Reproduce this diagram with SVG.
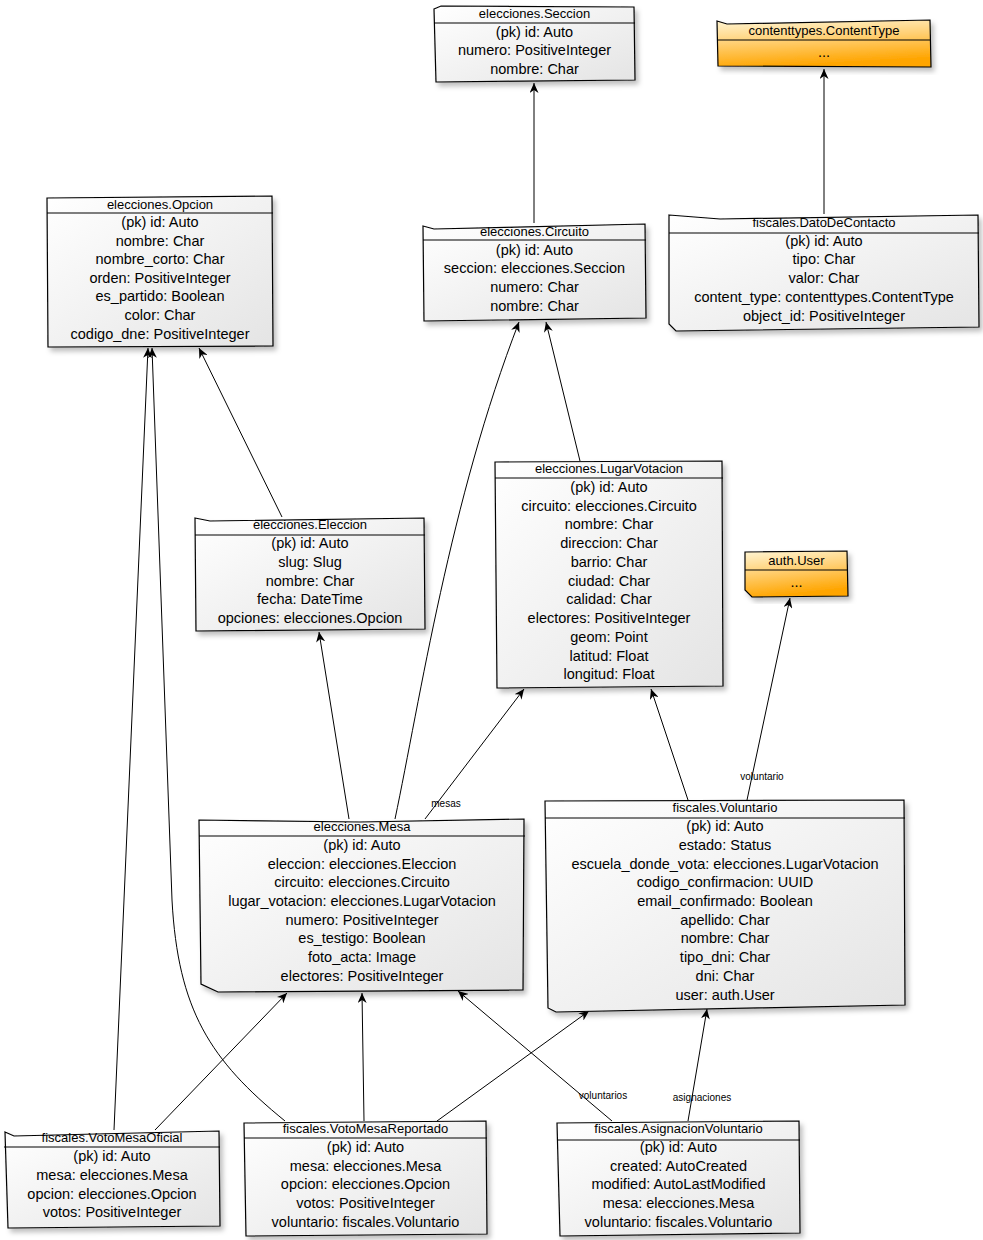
<svg xmlns="http://www.w3.org/2000/svg" width="983" height="1240" viewBox="0 0 983 1240">
<defs>
<linearGradient id="g" x1="0" y1="0" x2="1" y2="1">
<stop offset="0" stop-color="#FFFFFF"/>
<stop offset="1" stop-color="#E4E4E4"/>
</linearGradient>
<linearGradient id="o" x1="0" y1="0" x2="0.25" y2="1">
<stop offset="0" stop-color="#FFF6D6"/>
<stop offset="0.45" stop-color="#FFD27A"/>
<stop offset="1" stop-color="#FFA500"/>
</linearGradient>
<filter id="sh" x="-5%" y="-5%" width="115%" height="120%">
<feDropShadow dx="3" dy="4" stdDeviation="2.5" flood-color="#000" flood-opacity="0.25"/>
</filter>
<marker id="a" viewBox="0 0 10 9" refX="10" refY="4.5" markerWidth="10" markerHeight="9" markerUnits="userSpaceOnUse" orient="auto">
<path d="M0,0 L10,4.5 L0,9 L3,4.5 Z" fill="#000"/>
</marker>
</defs>
<style>
.box{fill:url(#g);stroke:#000;stroke-width:1.2;filter:url(#sh)}
.obox{fill:url(#o);stroke:#000;stroke-width:1.2;filter:url(#sh)}
.sep{stroke:#000;stroke-width:1.2;fill:none}
.ti{font-family:"Liberation Sans",Arial,sans-serif;font-size:13px;text-anchor:middle;fill:#000}
.t{font-family:"Liberation Sans",Arial,sans-serif;font-size:14.5px;text-anchor:middle;fill:#000}
.c{stroke:#000;stroke-width:1;fill:none;marker-end:url(#a)}
.lb{font-family:"Liberation Sans",Arial,sans-serif;font-size:10px;text-anchor:middle;fill:#000}
</style>

<g id="connectors">
<path class="c" d="M824,214 L824,69"/>
<path class="c" d="M534,223 L534,83"/>
<path class="c" d="M282,517 L199,348"/>
<path class="c" d="M580,461 L546,322"/>
<path class="c" d="M395,819 C420,700 450,500 519,322"/>
<path class="c" d="M349,819 L319,632"/>
<path class="c" d="M425,819 L524,689"/>
<path class="c" d="M688,800 L651,689"/>
<path class="c" d="M747,800 L790,598"/>
<path class="c" d="M114,1130 L148,348"/>
<path class="c" d="M155,1130 L287,993"/>
<path class="c" d="M285,1121 C210,1060 178,1010 172,900 L152,348"/>
<path class="c" d="M364,1121 L362,993"/>
<path class="c" d="M437,1121 L589,1011"/>
<path class="c" d="M612,1121 L458,991"/>
<path class="c" d="M688,1121 L707,1009"/>
<text class="lb" x="446" y="807">mesas</text>
<text class="lb" x="762" y="780">voluntario</text>
<text class="lb" x="603" y="1099">voluntarios</text>
<text class="lb" x="702" y="1101">asignaciones</text>
</g>

<g id="seccion">
<path class="box" d="M434,9 L441,6 L634,7 L635,80 L436,82 Z"/>
<path class="sep" d="M434,23 L635,23"/>
<text class="ti" x="534.5" y="17.5">elecciones.Seccion</text>
<text class="t" x="534.5" y="37">(pk) id: Auto</text>
<text class="t" x="534.5" y="55">numero: PositiveInteger</text>
<text class="t" x="534.5" y="74">nombre: Char</text>
</g>

<g id="contenttype">
<path class="obox" d="M717,21 L727,24 L930,20 L931,67 L718,66 Z"/>
<path class="sep" d="M717,40 L931,40"/>
<text class="ti" x="824" y="34.5">contenttypes.ContentType</text>
<text class="t" x="824" y="56.5">...</text>
</g>

<g id="opcion">
<path class="box" d="M47,198 L272,196 L273,346 L48,347 Z"/>
<path class="sep" d="M47,213 L273,213"/>
<text class="ti" x="160" y="208.5">elecciones.Opcion</text>
<text class="t" x="160" y="227">(pk) id: Auto</text>
<text class="t" x="160" y="246">nombre: Char</text>
<text class="t" x="160" y="264">nombre_corto: Char</text>
<text class="t" x="160" y="283">orden: PositiveInteger</text>
<text class="t" x="160" y="301">es_partido: Boolean</text>
<text class="t" x="160" y="320">color: Char</text>
<text class="t" x="160" y="339">codigo_dne: PositiveInteger</text>
</g>

<g id="circuito">
<path class="box" d="M423,226 L434,229 L645,224 L646,318 L424,321 Z"/>
<path class="sep" d="M423,240 L646,240"/>
<text class="ti" x="534.5" y="235.5">elecciones.Circuito</text>
<text class="t" x="534.5" y="255">(pk) id: Auto</text>
<text class="t" x="534.5" y="273">seccion: elecciones.Seccion</text>
<text class="t" x="534.5" y="292">numero: Char</text>
<text class="t" x="534.5" y="311">nombre: Char</text>
</g>

<g id="datodecontacto">
<path class="box" d="M669,215 L720,219 L978,215 L979,327 L676,331 L669,324 Z"/>
<path class="sep" d="M669,233 L979,233"/>
<text class="ti" x="824" y="226.5">fiscales.DatoDeContacto</text>
<text class="t" x="824" y="246">(pk) id: Auto</text>
<text class="t" x="824" y="264">tipo: Char</text>
<text class="t" x="824" y="283">valor: Char</text>
<text class="t" x="824" y="302">content_type: contenttypes.ContentType</text>
<text class="t" x="824" y="321">object_id: PositiveInteger</text>
</g>

<g id="eleccion">
<path class="box" d="M195,518 L210,521 L424,518 L425,629 L196,631 Z"/>
<path class="sep" d="M195,535 L425,535"/>
<text class="ti" x="310" y="528.5">elecciones.Eleccion</text>
<text class="t" x="310" y="548">(pk) id: Auto</text>
<text class="t" x="310" y="567">slug: Slug</text>
<text class="t" x="310" y="586">nombre: Char</text>
<text class="t" x="310" y="604">fecha: DateTime</text>
<text class="t" x="310" y="623">opciones: elecciones.Opcion</text>
</g>

<g id="lugarvotacion">
<path class="box" d="M495,462 L722,461 L723,686 L497,688 Z"/>
<path class="sep" d="M495,478 L723,478"/>
<text class="ti" x="609" y="472.5">elecciones.LugarVotacion</text>
<text class="t" x="609" y="492">(pk) id: Auto</text>
<text class="t" x="609" y="511">circuito: elecciones.Circuito</text>
<text class="t" x="609" y="529">nombre: Char</text>
<text class="t" x="609" y="548">direccion: Char</text>
<text class="t" x="609" y="567">barrio: Char</text>
<text class="t" x="609" y="586">ciudad: Char</text>
<text class="t" x="609" y="604">calidad: Char</text>
<text class="t" x="609" y="623">electores: PositiveInteger</text>
<text class="t" x="609" y="642">geom: Point</text>
<text class="t" x="609" y="661">latitud: Float</text>
<text class="t" x="609" y="679">longitud: Float</text>
</g>

<g id="authuser">
<path class="obox" d="M745,552 L847,551 L848,596 L752,597 L745,590 Z"/>
<path class="sep" d="M745,570 L848,570"/>
<text class="ti" x="796.5" y="564.5">auth.User</text>
<text class="t" x="796.5" y="586.5">...</text>
</g>

<g id="mesa">
<path class="box" d="M199,820 L360,822 L524,819 L523,990 L218,992 L201,984 Z"/>
<path class="sep" d="M199,836 L525,836"/>
<text class="ti" x="362" y="830.5">elecciones.Mesa</text>
<text class="t" x="362" y="850">(pk) id: Auto</text>
<text class="t" x="362" y="869">eleccion: elecciones.Eleccion</text>
<text class="t" x="362" y="887">circuito: elecciones.Circuito</text>
<text class="t" x="362" y="906">lugar_votacion: elecciones.LugarVotacion</text>
<text class="t" x="362" y="925">numero: PositiveInteger</text>
<text class="t" x="362" y="943">es_testigo: Boolean</text>
<text class="t" x="362" y="962">foto_acta: Image</text>
<text class="t" x="362" y="981">electores: PositiveInteger</text>
</g>

<g id="voluntario">
<path class="box" d="M545,801 L904,800 L905,1005 L556,1012 L548,1008 Z"/>
<path class="sep" d="M545,818 L905,818"/>
<text class="ti" x="725" y="811.5">fiscales.Voluntario</text>
<text class="t" x="725" y="831">(pk) id: Auto</text>
<text class="t" x="725" y="850">estado: Status</text>
<text class="t" x="725" y="869">escuela_donde_vota: elecciones.LugarVotacion</text>
<text class="t" x="725" y="887">codigo_confirmacion: UUID</text>
<text class="t" x="725" y="906">email_confirmado: Boolean</text>
<text class="t" x="725" y="925">apellido: Char</text>
<text class="t" x="725" y="943">nombre: Char</text>
<text class="t" x="725" y="962">tipo_dni: Char</text>
<text class="t" x="725" y="981">dni: Char</text>
<text class="t" x="725" y="1000">user: auth.User</text>
</g>

<g id="votomesaoficial">
<path class="box" d="M5,1132 L14,1136 L219,1131 L220,1226 L8,1228 Z"/>
<path class="sep" d="M4,1147 L220,1147"/>
<text class="ti" x="112" y="1141.5">fiscales.VotoMesaOficial</text>
<text class="t" x="112" y="1161">(pk) id: Auto</text>
<text class="t" x="112" y="1180">mesa: elecciones.Mesa</text>
<text class="t" x="112" y="1199">opcion: elecciones.Opcion</text>
<text class="t" x="112" y="1217">votos: PositiveInteger</text>
</g>

<g id="votomesareportado">
<path class="box" d="M244,1123 L486,1121 L487,1234 L246,1236 Z"/>
<path class="sep" d="M244,1138 L487,1138"/>
<text class="ti" x="365.5" y="1132.5">fiscales.VotoMesaReportado</text>
<text class="t" x="365.5" y="1152">(pk) id: Auto</text>
<text class="t" x="365.5" y="1171">mesa: elecciones.Mesa</text>
<text class="t" x="365.5" y="1189">opcion: elecciones.Opcion</text>
<text class="t" x="365.5" y="1208">votos: PositiveInteger</text>
<text class="t" x="365.5" y="1227">voluntario: fiscales.Voluntario</text>
</g>

<g id="asignacionvoluntario">
<path class="box" d="M557,1123 L799,1121 L800,1233 L560,1236 Z"/>
<path class="sep" d="M557,1140 L800,1140"/>
<text class="ti" x="678.5" y="1132.5">fiscales.AsignacionVoluntario</text>
<text class="t" x="678.5" y="1152">(pk) id: Auto</text>
<text class="t" x="678.5" y="1171">created: AutoCreated</text>
<text class="t" x="678.5" y="1189">modified: AutoLastModified</text>
<text class="t" x="678.5" y="1208">mesa: elecciones.Mesa</text>
<text class="t" x="678.5" y="1227">voluntario: fiscales.Voluntario</text>
</g>
</svg>
